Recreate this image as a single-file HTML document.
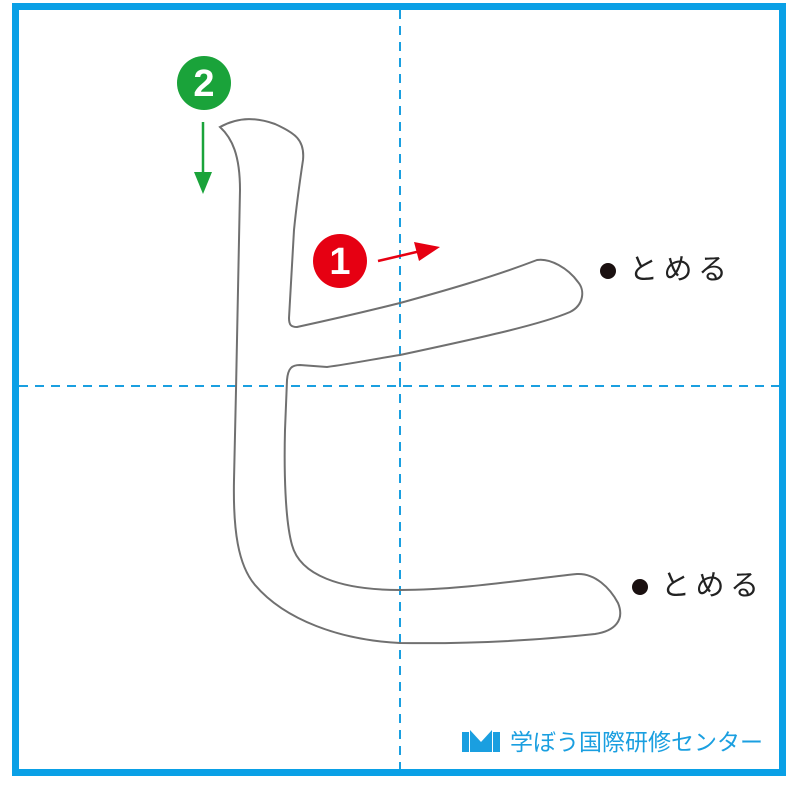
<!DOCTYPE html>
<html><head><meta charset="utf-8"><style>
html,body{margin:0;padding:0;background:#fff}
svg{display:block}
</style></head><body>
<svg width="800" height="788" viewBox="0 0 800 788" xmlns="http://www.w3.org/2000/svg">
<rect x="0" y="0" width="800" height="788" fill="#fff"/>
<rect x="15.5" y="6.5" width="767" height="766" fill="none" stroke="#0aa0e6" stroke-width="7"/>
<line x1="400" y1="10" x2="400" y2="769" stroke="#1a9fe0" stroke-width="2" stroke-dasharray="9,7"/>
<line x1="19" y1="386" x2="779" y2="386" stroke="#1a9fe0" stroke-width="2" stroke-dasharray="9,7"/>
<path d="M220,127 C232,138 240,155 240,190 L236,390 L234,480 C233,530 238,565 255,585 C285,620 340,640 400,643 C470,644 540,640 595,634 C615,631 625,620 618,603 C610,588 595,573 577,574 C520,580 460,590 400,590 C340,590 300,575 292,545 C285,520 284,470 285,430 L287,380 C288,368 292,365 300,365 L327,367 C350,364 380,358 400,355 C470,340 540,325 570,312 C584,305 585,290 578,282 C568,268 550,258 537,260 C490,278 440,292 400,303 C360,313 320,322 297,327 C291,327 289,325 289,318 L294,230 C297,200 300,180 303,160 C305,140 295,133 275,124 C258,118 240,116 220,127 Z" fill="none" stroke="#707070" stroke-width="2"/>
<circle cx="204" cy="83" r="27" fill="#1aa33a"/>
<text x="204" y="96" font-family="Liberation Sans, sans-serif" font-weight="bold" font-size="38" fill="#fff" text-anchor="middle">2</text>
<line x1="203" y1="122" x2="203" y2="180" stroke="#1aa33a" stroke-width="2.5"/>
<polygon points="194,172 212,172 203,194" fill="#1aa33a"/>
<circle cx="340" cy="261" r="27" fill="#e60012"/>
<text x="340" y="274" font-family="Liberation Sans, sans-serif" font-weight="bold" font-size="38" fill="#fff" text-anchor="middle">1</text>
<line x1="378" y1="261" x2="425" y2="250" stroke="#e60012" stroke-width="2.5"/>
<polygon points="414,242 440,247 419,261" fill="#e60012"/>
<circle cx="608" cy="271" r="8" fill="#1a1010"/>
<text x="629" y="279" font-family="Liberation Sans, 'Noto Sans CJK JP', sans-serif" font-size="29" fill="#222" textLength="98">とめる</text>
<circle cx="640" cy="587" r="8" fill="#1a1010"/>
<text x="661" y="595" font-family="Liberation Sans, 'Noto Sans CJK JP', sans-serif" font-size="29" fill="#222" textLength="98">とめる</text>
<g fill="#1a9fe0">
<rect x="462" y="732" width="7" height="20"/>
<rect x="493" y="732" width="7" height="20"/>
<path d="M470,730 L481,742 L492,730 L492,752 L470,752 Z"/>
</g>
<text x="510" y="750" font-family="Liberation Sans, 'Noto Sans CJK JP', sans-serif" font-size="23" fill="#1a9fe0">学ぼう国際研修センター</text>
</svg>
</body></html>
